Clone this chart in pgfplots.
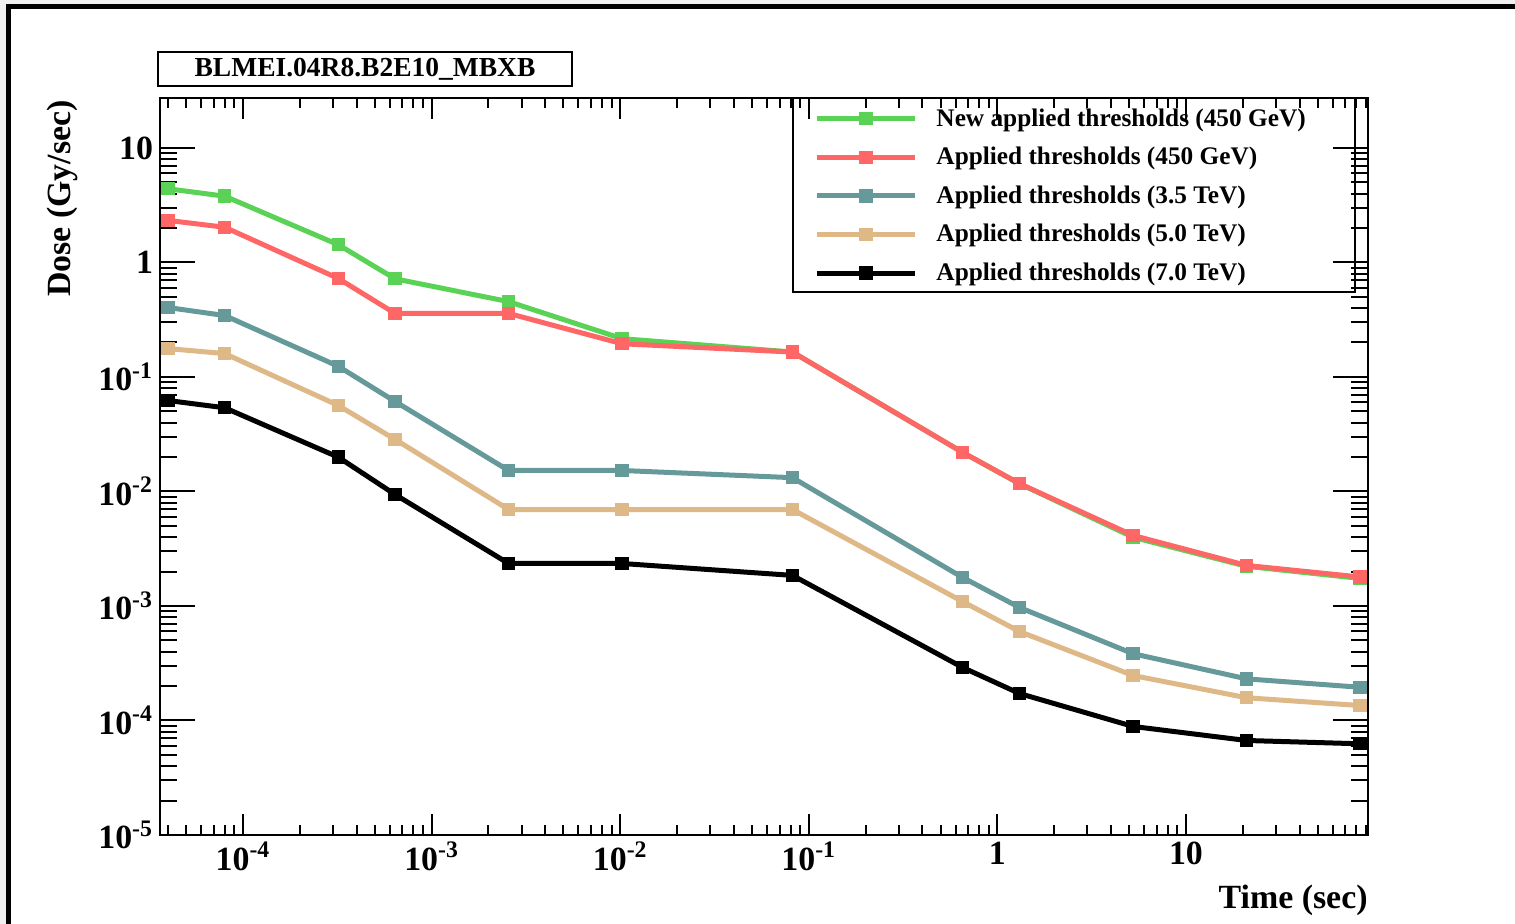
\documentclass[border=0pt]{standalone}
\usepackage{fontspec}
\setmainfont{Liberation Serif}
\usepackage{pgfplots}
\pgfplotsset{compat=1.18}
\definecolor{cgreen}{RGB}{90,210,86}
\definecolor{cred}{RGB}{255,102,102}
\definecolor{cteal}{RGB}{102,153,153}
\definecolor{ctan}{RGB}{222,185,135}
\newcommand{\lblfont}{\fontsize{17}{17}\selectfont\bfseries}
\begin{document}
\begin{tikzpicture}
\useasboundingbox (0,0) rectangle (757.5bp,462bp);
\fill[black!6] (0,0) rectangle (757.5bp,462bp);
\fill[white] (3bp,0) rectangle (757.5bp,460bp);
\draw[line width=2.5bp] (4.25bp,0) -- (4.25bp,458.75bp) -- (757.5bp,458.75bp);
\draw[line width=1bp] (79bp,419bp) rectangle (286bp,436bp);
\node[font=\fontsize{13.8}{14}\selectfont\bfseries, inner sep=0pt] at (182.5bp,427.5bp) {BLMEI.04R8.B2E10\_MBXB};
\begin{axis}[
  at={(80bp,44.5bp)}, anchor=south west,
  width=604bp, height=368.5bp, scale only axis,
  xmode=log, ymode=log, log basis x=10, log basis y=10,
  xmin=3.63e-5, xmax=92.3, ymin=1e-5, ymax=27.3,
  clip mode=individual,
  axis line style={line width=1.4bp},
  every tick/.style={black, line width=1bp},
  tick align=inside,
  major tick length=17.5bp, minor tick length=8.5bp,
  xtick style={/pgfplots/major tick length=10.5bp,/pgfplots/minor tick length=5bp},
  xticklabel={\pgfmathtruncatemacro{\myexp}{round(\tick)}\ifnum\myexp=0 1\else\ifnum\myexp=1 10\else 10\textsuperscript{\myexp}\fi\fi},
  yticklabel={\pgfmathtruncatemacro{\myexp}{round(\tick)}\ifnum\myexp=0 1\else\ifnum\myexp=1 10\else 10\textsuperscript{\myexp}\fi\fi},
  ticklabel style={font=\lblfont},
  xlabel={Time (sec)},
  xlabel style={at={(axis description cs:1,-0.0882)}, anchor=east, inner sep=0pt, font=\lblfont},
  ylabel={Dose (Gy/sec)},
  ylabel style={at={(axis description cs:-0.0811,0.9973)}, anchor=east, inner sep=0pt, font=\lblfont},
  legend style={draw=none, fill=none, at={(0.5418,0.998)}, anchor=north west,
    inner sep=0pt, outer sep=0pt, row sep=0pt, column sep=9.5bp,
    font=\fontsize{12.7}{12.7}\selectfont\bfseries,
    nodes={inner sep=0pt, minimum height=19.3bp}},
  legend cell align=left,
  legend image code/.code={\draw[mark repeat=2,mark phase=2,#1] plot coordinates {(0bp,0bp) (24.5bp,0bp) (49bp,0bp)};},
  every axis plot/.append style={line width=2.5bp, mark=square*, mark size=2.1bp, mark options={solid, line width=0.5bp}},
]
\addplot[cgreen, mark options={fill=cgreen}] coordinates {
(4e-5,4.4) (8e-5,3.79) (3.2e-4,1.43) (6.4e-4,0.72) (2.56e-3,0.455) (1.024e-2,0.216)
(8.192e-2,0.165) (0.6554,0.0219) (1.311,0.0117) (5.243,0.00398) (20.97,0.00222) (83.89,0.00174)};
\addlegendentry{New applied thresholds (450 GeV)}
\addplot[cred, mark options={fill=cred}] coordinates {
(4e-5,2.33) (8e-5,2.03) (3.2e-4,0.725) (6.4e-4,0.359) (2.56e-3,0.359) (1.024e-2,0.195)
(8.192e-2,0.165) (0.6554,0.0219) (1.311,0.0117) (5.243,0.00413) (20.97,0.00226) (83.89,0.00179)};
\addlegendentry{Applied thresholds (450 GeV)}
\addplot[cteal, mark options={fill=cteal}] coordinates {
(4e-5,0.404) (8e-5,0.344) (3.2e-4,0.124) (6.4e-4,0.0611) (2.56e-3,0.01525) (1.024e-2,0.01525)
(8.192e-2,0.0132) (0.6554,0.00177) (1.311,0.00097) (5.243,3.83e-4) (20.97,2.31e-4) (83.89,1.95e-4)};
\addlegendentry{Applied thresholds (3.5 TeV)}
\addplot[ctan, mark options={fill=ctan}] coordinates {
(4e-5,0.177) (8e-5,0.160) (3.2e-4,0.0564) (6.4e-4,0.0285) (2.56e-3,0.00696) (1.024e-2,0.00696)
(8.192e-2,0.00696) (0.6554,1.09e-3) (1.311,5.98e-4) (5.243,2.47e-4) (20.97,1.58e-4) (83.89,1.35e-4)};
\addlegendentry{Applied thresholds (5.0 TeV)}
\addplot[black, mark options={fill=black}] coordinates {
(4e-5,0.0623) (8e-5,0.0538) (3.2e-4,0.01995) (6.4e-4,0.00941) (2.56e-3,0.00235) (1.024e-2,0.00235)
(8.192e-2,0.00185) (0.6554,2.90e-4) (1.311,1.72e-4) (5.243,8.87e-5) (20.97,6.69e-5) (83.89,6.26e-5)};
\addlegendentry{Applied thresholds (7.0 TeV)}
\draw[line width=1bp] (rel axis cs:0.524,1) rectangle (rel axis cs:0.9892,0.7368);
\end{axis}
\end{tikzpicture}
\end{document}
